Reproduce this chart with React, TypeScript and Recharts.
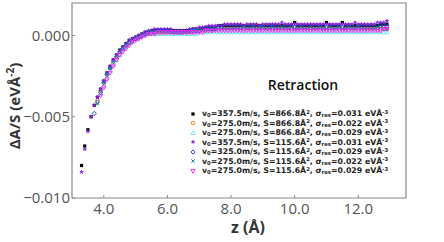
import React from 'react';
import {
  ScatterChart,
  Scatter,
  XAxis,
  YAxis,
  ReferenceArea,
  Legend,
} from 'recharts';

// ── Data (z in Å, ΔA/S in units of 1e-4 eVÅ⁻²) ────────────────────────────────
const Z = [
  3.3, 3.4, 3.5, 3.6, 3.7, 3.8, 3.9, 4.0, 4.1, 4.2,
  4.3, 4.4, 4.5, 4.6, 4.7, 4.8, 4.9, 5.0, 5.1, 5.2,
  5.3, 5.4, 5.5, 5.6, 5.7, 5.8, 5.9, 6.0, 6.1, 6.2,
  6.3, 6.4, 6.5, 6.6, 6.7, 6.8, 6.9, 7.0, 7.1, 7.2,
  7.3, 7.4, 7.5, 7.6, 7.7, 7.8, 7.9, 8.0, 8.1, 8.2,
  8.3, 8.4, 8.5, 8.6, 8.7, 8.8, 8.9, 9.0, 9.1, 9.2,
  9.3, 9.4, 9.5, 9.6, 9.7, 9.8, 9.9, 10.0, 10.1, 10.2,
  10.3, 10.4, 10.5, 10.6, 10.7, 10.8, 10.9, 11.0, 11.1, 11.2,
  11.3, 11.4, 11.5, 11.6, 11.7, 11.8, 11.9, 12.0, 12.1, 12.2,
  12.3, 12.4, 12.5, 12.6, 12.7, 12.8, 12.9,
];

const _ = null;

const BLACK_SQ = [
  -80, -68, -58, -50, -43, -38, -33, -28, -23, -19,
  -15, -12, -9, -7, -5, -3, -2, -1, 0, 1,
  2, 2, 3, 3, 3, 3, 3, 3, 3, 3,
  3, 3, 3, 3, 3, 4, 4, 4, 4, 5,
  5, 5, 5, 6, 6, 6, 6, 6, 6, 6,
  6, 6, 6, 6, 6, 6, 6, 6, 6, 6,
  6, 6, 6, 6, 6, 6, 6, 8, 6, 6,
  6, 6, 6, 6, 6, 6, 6, 8, 6, 6,
  6, 6, 8, 6, 6, 6, 6, 6, 6, 6,
  6, 6, 6, 6, 7, 7, 7,
];

const ORANGE_CIRC = [
  _, _, _, _, _, -40, -34, -29, -24, -20,
  -17, -14, -11, -8, -6, -5, -3, -2, -1, 0,
  1, 1, 2, 2, 2, 2, 2, 2, 2, 2,
  2, 2, 2, 2, 2, 2, 3, 3, 3, 3,
  3, 3, 4, 4, 4, 4, 4, 4, 4, 4,
  4, 4, 4, 4, 4, 4, 4, 4, 4, 4,
  4, 4, 4, 4, 4, 4, 4, 4, 4, 4,
  4, 4, 4, 4, 4, 4, 4, 4, 4, 4,
  4, 4, 4, 4, 4, 4, 4, 4, 4, 4,
  4, 4, 4, 4, 4, 4, 4,
];

const CYAN_TRI = [
  _, _, _, _, _, _, -36, -31, -26, -22,
  -18, -15, -12, -9, -7, -5, -4, -2, -1, 0,
  0, 1, 1, 1, 1, 1, 1, 1, 1, 1,
  1, 1, 1, 1, 1, 1, 1, 2, 2, 2,
  2, 2, 2, 2, 2, 2, 2, 2, 2, 2,
  2, 2, 2, 2, 2, 2, 2, 2, 2, 2,
  2, 2, 2, 2, 2, 2, 2, 2, 2, 2,
  2, 2, 2, 2, 2, 2, 2, 2, 2, 2,
  2, 2, 2, 2, 2, 2, 2, 2, 2, 2,
  2, 2, 2, 2, 2, 2, 2,
];

const PURPLE_STAR = [
  -84, -70, -59, -50, -43, -38, -33, -28, -23, -19,
  -15, -12, -9, -7, -5, -3, -2, -1, 0, 1,
  2, 3, 3, 4, 4, 4, 4, 4, 4, 3,
  3, 3, 3, 3, 4, 4, 4, 5, 5, 5,
  6, 6, 6, 6, 6, 7, 7, 7, 7, 7,
  7, 6, 7, 7, 7, 7, 6, 7, 7, 7,
  7, 7, 7, 8, 7, 7, 7, 7, 7, 7,
  7, 7, 7, 7, 7, 7, 7, 7, 7, 7,
  7, 7, 7, 7, 7, 7, 8, 7, 7, 7,
  7, 7, 7, 8, 8, 8, 9,
];

const BLUE_DIAM = [
  _, _, _, _, -48, -41, -35, -29, -24, -20,
  -16, -13, -10, -8, -6, -4, -3, -2, -1, 0,
  1, 2, 2, 2, 3, 3, 3, 3, 2, 2,
  2, 2, 2, 2, 3, 3, 3, 3, 4, 4,
  4, 4, 4, 5, 5, 5, 5, 5, 5, 5,
  5, 5, 5, 5, 5, 5, 5, 5, 5, 5,
  5, 5, 5, 5, 5, 5, 5, 5, 5, 5,
  5, 5, 5, 5, 5, 5, 5, 5, 5, 5,
  5, 5, 5, 5, 5, 5, 5, 5, 5, 5,
  5, 5, 5, 5, 6, 6, 6,
];

const TEAL_X = [
  _, _, _, _, _, -42, -35, -29, -24, -20,
  -16, -13, -10, -8, -6, -5, -3, -2, -1, 0,
  1, 1, 2, 2, 2, 2, 2, 2, 2, 2,
  2, 2, 2, 2, 2, 3, 3, 3, 3, 3,
  4, 4, 4, 4, 4, 4, 4, 4, 4, 4,
  4, 5, 4, 4, 5, 4, 4, 5, 4, 4,
  5, 4, 4, 5, 4, 4, 5, 4, 4, 5,
  4, 4, 5, 4, 4, 5, 4, 4, 5, 4,
  4, 5, 4, 4, 5, 4, 4, 5, 4, 4,
  4, 4, 4, 5, 5, 4, 4,
];

const MAGENTA_TRI = [
  _, _, _, _, _, _, -37, -32, -27, -23,
  -19, -15, -12, -10, -8, -6, -4, -3, -2, -1,
  0, 1, 1, 1, 2, 2, 2, 2, 2, 2,
  2, 2, 2, 2, 2, 2, 2, 2, 2, 3,
  3, 3, 3, 3, 3, 3, 3, 3, 3, 3,
  3, 3, 3, 3, 3, 3, 3, 3, 3, 3,
  3, 3, 3, 3, 3, 3, 3, 3, 3, 3,
  3, 3, 3, 3, 3, 3, 3, 3, 3, 3,
  3, 3, 3, 3, 3, 3, 3, 3, 3, 3,
  3, 3, 3, 3, 3, 4, 4,
];

// legend parameters
const V0 = ['357.5', '275.0', '275.0', '357.5', '325.0', '275.0', '275.0'];
const AREA = ['866.8', '866.8', '866.8', '115.6', '115.6', '115.6', '115.6'];
const SIGMA = ['0.031', '0.022', '0.029', '0.031', '0.029', '0.022', '0.029'];

const X_TICKS = [4, 6, 8, 10, 12];
const Y_TICKS = [-0.01, -0.005, 0];

// ── Marker shapes ─────────────────────────────────────────────────────────────
type M = { cx: number; cy: number; c: string };

const Square = ({ cx, cy, c }: M) => <rect x={cx - 1.6} y={cy - 1.6} width={3.2} height={3.2} fill={c} />;
const OpenCircle = ({ cx, cy, c }: M) => <circle cx={cx} cy={cy} r={1.8} fill="none" stroke={c} strokeWidth={1} />;
const TriUp = ({ cx, cy, c }: M) => (
  <polygon points={`${cx},${cy - 2.3} ${cx + 2.1},${cy + 1.5} ${cx - 2.1},${cy + 1.5}`} fill="none" stroke={c} strokeWidth={0.9} />
);
const TriDown = ({ cx, cy, c }: M) => (
  <polygon points={`${cx},${cy + 2.3} ${cx + 2.1},${cy - 1.5} ${cx - 2.1},${cy - 1.5}`} fill="none" stroke={c} strokeWidth={0.9} />
);
const Diamond = ({ cx, cy, c }: M) => (
  <polygon points={`${cx},${cy - 2.2} ${cx + 2},${cy} ${cx},${cy + 2.2} ${cx - 2},${cy}`} fill="none" stroke={c} strokeWidth={0.9} />
);
const Cross = ({ cx, cy, c }: M) => (
  <path d={`M${cx - 1.7},${cy - 1.7}L${cx + 1.7},${cy + 1.7}M${cx - 1.7},${cy + 1.7}L${cx + 1.7},${cy - 1.7}`} stroke={c} strokeWidth={1} />
);
const Star = ({ cx, cy, c }: M) => {
  const pts: string[] = [];
  for (let i = 0; i < 10; i++) {
    const r = i % 2 === 0 ? 2.6 : 1.1;
    const a = -Math.PI / 2 + (i * Math.PI) / 5;
    pts.push(`${cx + r * Math.cos(a)},${cy + r * Math.sin(a)}`);
  }
  return <polygon points={pts.join(' ')} fill={c} />;
};

const SERIES = [
  { values: BLACK_SQ, color: '#000000', Shape: Square },
  { values: ORANGE_CIRC, color: '#f08c28', Shape: OpenCircle },
  { values: CYAN_TRI, color: '#6fe8e8', Shape: TriUp },
  { values: PURPLE_STAR, color: '#8a2be2', Shape: Star },
  { values: BLUE_DIAM, color: '#1a2ee0', Shape: Diamond },
  { values: TEAL_X, color: '#17918a', Shape: Cross },
  { values: MAGENTA_TRI, color: '#ff1aff', Shape: TriDown },
];

const toPoints = (vals: (number | null)[]) =>
  Z.map((z, i) => ({ z, v: vals[i] == null ? null : (vals[i] as number) / 10000 })).filter((p) => p.v !== null);

// ── Legend ───────────────────────────────────────────────────────────────────
const SUB = { fontSize: 5.3, lineHeight: 0, verticalAlign: 'baseline', position: 'relative' as const, top: 1 };
const SUP = { fontSize: 5.3, lineHeight: 0, verticalAlign: 'baseline', position: 'relative' as const, top: -2.5 };

const LegendBox = () => (
  <div style={{ fontFamily: 'DejaVu Sans, sans-serif', color: '#222', width: 230 }}>
    <div
      style={{
        fontFamily: 'Open Sans, sans-serif',
        fontSize: 14,
        fontWeight: 600,
        textAlign: 'center',
        width: 228,
        marginBottom: 15,
        color: '#111',
        lineHeight: '19px',
      }}
    >
      Retraction
    </div>
    {SERIES.map((s, i) => (
      <div
        key={i}
        style={{ display: 'flex', alignItems: 'center', height: 9.5, lineHeight: '9.1px', fontSize: 7.8, fontWeight: 700, whiteSpace: 'nowrap' }}
      >
        <svg width={8} height={8} style={{ marginRight: 5 }}>
          <s.Shape cx={4} cy={4} c={s.color} />
        </svg>
        <span>
          v<span style={SUB}>0</span>={V0[i]}m/s, S={AREA[i]}Å<span style={SUP}>2</span>, σ
          <span style={SUB}>res</span>={SIGMA[i]} eVÅ<span style={SUP}>-3</span>
        </span>
      </div>
    ))}
  </div>
);

const TICK = { fill: '#555', fontSize: 15, fontWeight: 500, fontFamily: 'Open Sans, sans-serif' };

const fmtY = (v: number) => (v === 0 ? '0.000' : '\u2212' + Math.abs(v).toFixed(3));

const YLabel = () => (
  <text
    x={0}
    y={0}
    transform="translate(20,106) rotate(-90)"
    textAnchor="middle"
    fill="#333"
    fontSize={15}
    fontWeight={700}
    fontFamily="Open Sans, sans-serif"
  >
    ΔA/S (eVÅ<tspan dy={-6} fontSize={10}>-2</tspan>
    <tspan dy={6}>)</tspan>
  </text>
);

const XLabel = () => (
  <text x={248} y={233} textAnchor="middle" fill="#333" fontSize={16} fontWeight={700} fontFamily="Open Sans, sans-serif">
    z (Å)
  </text>
);

export default function App() {
  return (
    <div style={{ position: 'absolute', left: 0, top: 0, width: 444, height: 242, background: '#fff' }}>
      <ScatterChart width={444} height={242} margin={{ top: 3, right: 38, bottom: 0, left: 0 }}>
        <XAxis
          type="number"
          dataKey="z"
          domain={[3, 13.5]}
          ticks={X_TICKS}
          tickFormatter={(v: number) => v.toFixed(1)}
          tick={TICK}
          height={44}
          axisLine={false}
          tickSize={-3}
          tickMargin={8}
          tickLine={{ stroke: '#888' }}
          label={<XLabel />}
        />
        <YAxis
          type="number"
          dataKey="v"
          domain={[-0.01, 0.002]}
          ticks={Y_TICKS}
          tickFormatter={fmtY}
          tick={TICK}
          width={72}
          axisLine={false}
          tickSize={-3}
          tickMargin={5}
          tickLine={{ stroke: '#888' }}
          label={<YLabel />}
        />
        <ReferenceArea x1={3} x2={13.5} y1={-0.01} y2={0.002} fill="none" stroke="#888" strokeWidth={1.2} />
        {SERIES.map((s, i) => (
          <Scatter
            key={i}
            name={`s${i}`}
            data={toPoints(s.values)}
            fill={s.color}
            isAnimationActive={false}
            shape={(p: any) => <s.Shape cx={p.cx} cy={p.cy} c={s.color} />}
          />
        ))}
        <Legend
          layout="vertical"
          align="center"
          verticalAlign="middle"
          content={<LegendBox />}
          wrapperStyle={{ left: 189, top: 75, width: 230 }}
        />
      </ScatterChart>
    </div>
  );
}
